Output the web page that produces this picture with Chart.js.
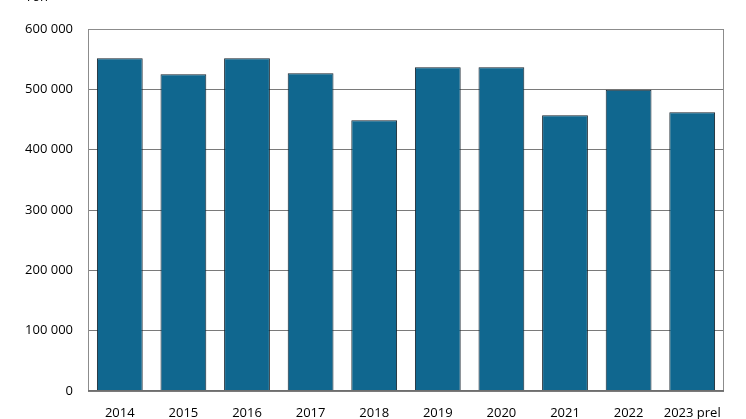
<!DOCTYPE html>
<html>
<head>
<meta charset="utf-8">
<script src="https://cdn.jsdelivr.net/npm/chart.js@4.4.1/dist/chart.umd.min.js"></script>
<style>
  html, body { margin: 0; padding: 0; background: #fff; }
  #wrap { width: 746px; height: 419px; position: relative; }
</style>
</head>
<body>
<div id="wrap"><canvas id="chart"></canvas></div>
<script>
// Values (tonnes)
const years = ['2014', '2015', '2016', '2017', '2018', '2019', '2020', '2021', '2022', '2023 prel'];
const tonnes = [551500, 525000, 551500, 526600, 448700, 536500, 536500, 457000, 499400, 462000];
const yTicks = [0, 100000, 200000, 300000, 400000, 500000, 600000];
const unitLabel = 'Ton';

const FONT = '"Open Sans", "DejaVu Sans", sans-serif';

// Frame round the plot area plus the cut-off unit label at the top
const framePlugin = {
    id: 'frame',
    afterDatasetsDraw(chart) {
        const { ctx, chartArea } = chart;
        ctx.save();
        ctx.strokeStyle = '#8c8c8c';
        ctx.lineWidth = 1;
        ctx.beginPath();
        ctx.moveTo(chartArea.left + 0.5, chartArea.bottom);
        ctx.lineTo(chartArea.left + 0.5, chartArea.top + 0.5);
        ctx.lineTo(chartArea.right - 0.5, chartArea.top + 0.5);
        ctx.lineTo(chartArea.right - 0.5, chartArea.bottom);
        ctx.stroke();
        ctx.strokeStyle = '#6e6e6e';
        ctx.beginPath();
        ctx.moveTo(chartArea.left, chartArea.bottom - 0.5);
        ctx.lineTo(chartArea.right, chartArea.bottom - 0.5);
        ctx.stroke();

        ctx.fillStyle = '#000';
        ctx.font = '13px ' + FONT;
        ctx.textBaseline = 'alphabetic';
        ctx.textAlign = 'left';
        ctx.fillText(unitLabel, 25, 1);
        ctx.restore();
    }
};

new Chart(document.getElementById('chart'), {
    type: 'bar',
    data: {
        labels: years,
        datasets: [{
            data: tonnes,
            backgroundColor: '#10678f',
            borderColor: '#16232d',
            borderWidth: 1,
            categoryPercentage: 1.0,
            barPercentage: 0.72
        }]
    },
    options: {
        responsive: true,
        maintainAspectRatio: false,
        animation: false,
        devicePixelRatio: 1,
        layout: { padding: { left: 0, right: 22, top: 29, bottom: 0 } },
        plugins: {
            legend: { display: false },
            tooltip: { enabled: false }
        },
        scales: {
            x: {
                grid: { display: false },
                border: { display: false },
                ticks: {
                    color: '#000',
                    font: { family: FONT, size: 13 },
                    maxRotation: 0,
                    padding: 6
                },
                afterFit(scale) { scale.height = 28; }
            },
            y: {
                min: 0,
                max: 600000,
                afterBuildTicks(scale) {
                    scale.ticks = yTicks.map(v => ({ value: v }));
                },
                grid: {
                    color: '#7a7a7a',
                    lineWidth: 1,
                    drawTicks: false
                },
                border: { display: false },
                ticks: {
                    color: '#000',
                    font: { family: FONT, size: 13 },
                    padding: 15,
                    callback: v => v.toLocaleString('en-US').replace(/,/g, ' ')
                },
                afterFit(scale) { scale.width = 88; }
            }
        }
    },
    plugins: [framePlugin]
});
</script>
</body>
</html>
